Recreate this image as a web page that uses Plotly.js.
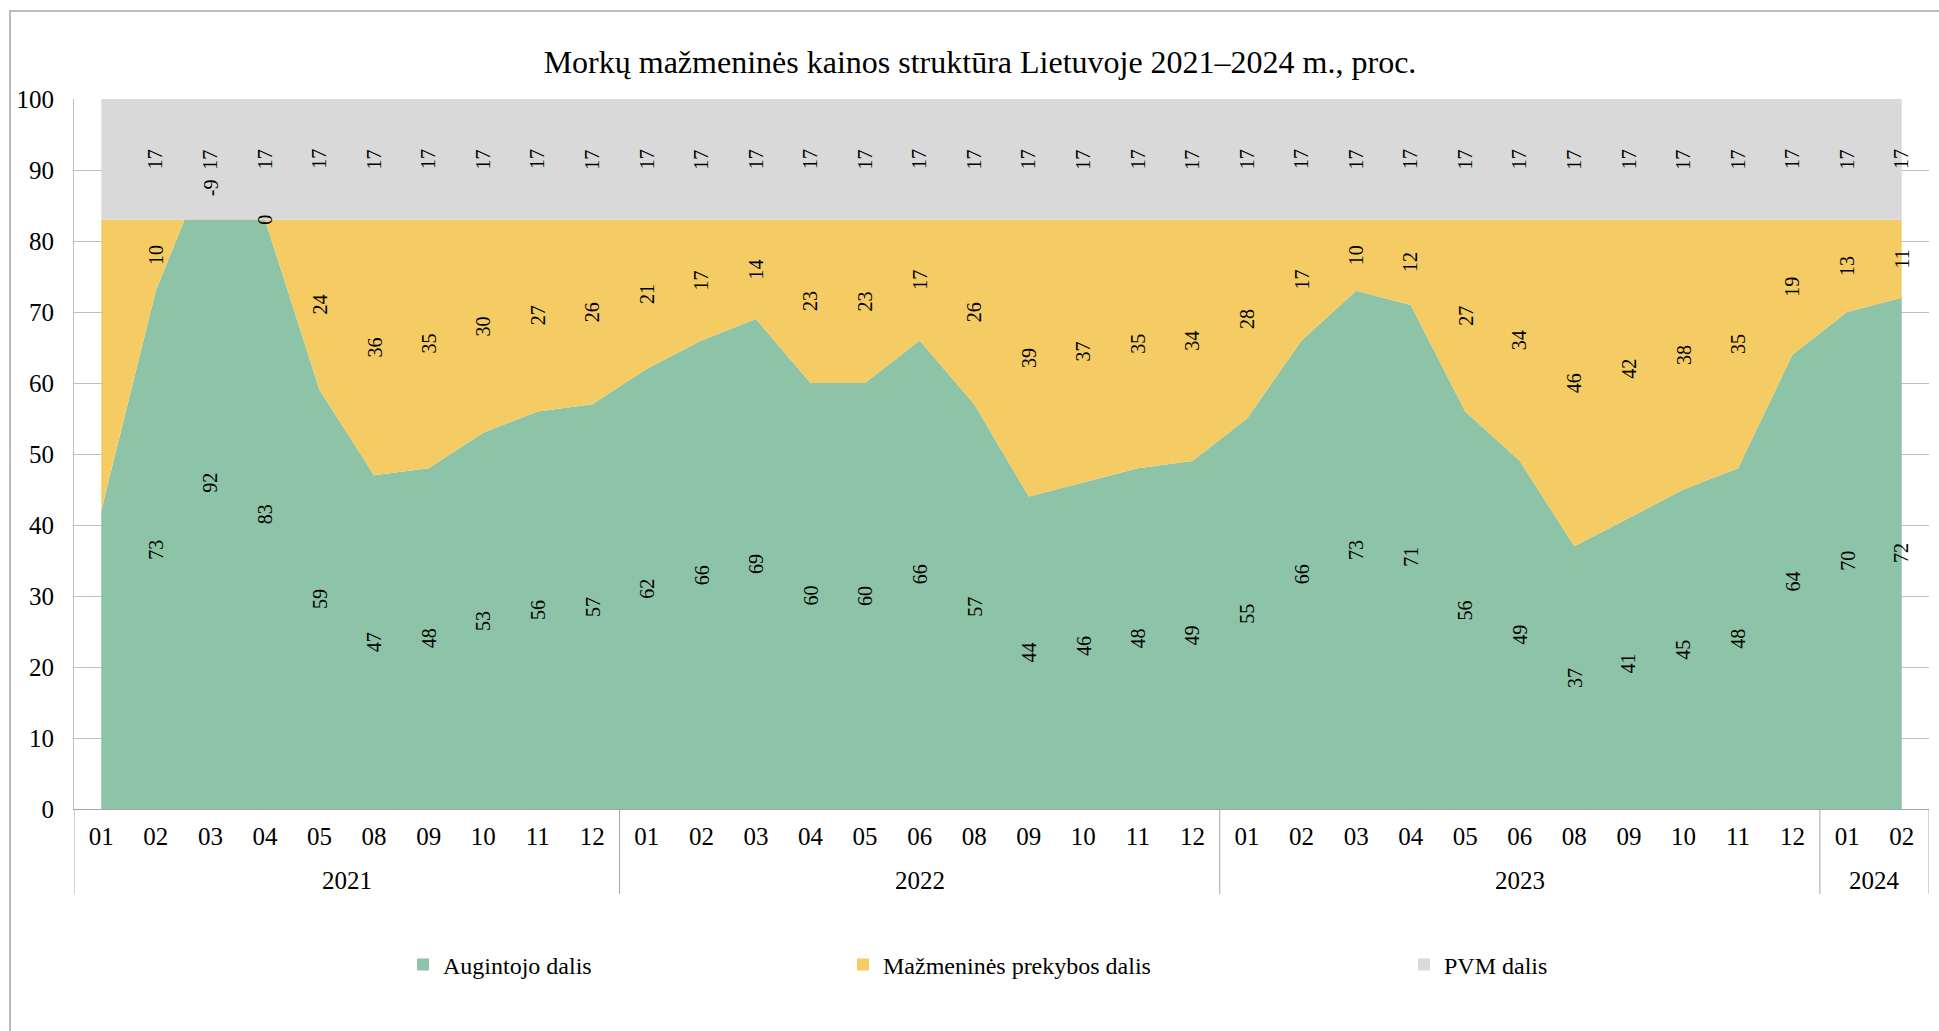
<!DOCTYPE html>
<html>
<head>
<meta charset="utf-8">
<script src="https://cdn.plot.ly/plotly-3.0.1.min.js"></script>
<style>
  html, body { margin: 0; padding: 0; background: #ffffff; }
  #chart { width: 1939px; height: 1031px; }
</style>
</head>
<body>
<div id="chart"></div>
<script>
// ---- Data ----
const years = [
  "2021","2021","2021","2021","2021","2021","2021","2021","2021","2021",
  "2022","2022","2022","2022","2022","2022","2022","2022","2022","2022","2022",
  "2023","2023","2023","2023","2023","2023","2023","2023","2023","2023","2023",
  "2024","2024"
];
const months = [
  "01","02","03","04","05","08","09","10","11","12",
  "01","02","03","04","05","06","08","09","10","11","12",
  "01","02","03","04","05","06","08","09","10","11","12",
  "01","02"
];
const augintojo = [
  42, 73, 92, 83, 59, 47, 48, 53, 56, 57,
  62, 66, 69, 60, 60, 66, 57, 44, 46, 48, 49,
  55, 66, 73, 71, 56, 49, 37, 41, 45, 48, 64,
  70, 72
];
const prekybos = [
  41, 10, -9, 0, 24, 36, 35, 30, 27, 26,
  21, 17, 14, 23, 23, 17, 26, 39, 37, 35, 34,
  28, 17, 10, 12, 27, 34, 46, 42, 38, 35, 19,
  13, 11
];
const pvm = [
  17, 17, 17, 17, 17, 17, 17, 17, 17, 17,
  17, 17, 17, 17, 17, 17, 17, 17, 17, 17, 17,
  17, 17, 17, 17, 17, 17, 17, 17, 17, 17, 17,
  17, 17
];
const seriesNames = ["Augintojo dalis", "Mažmeninės prekybos dalis", "PVM dalis"];
const seriesColors = ["#8DC3A7", "#F5CB64", "#D9D9D9"];
const seriesValues = [augintojo, prekybos, pvm];

// ---- Style ----
const FONT = "Liberation Serif, Times New Roman, serif";
const W = 1939, H = 1031;
const M = { l: 74, r: 10, t: 99, b: 222 };
const PW = W - M.l - M.r, PH = H - M.t - M.b;
const px2x = p => (p - M.l) / PW;
const px2y = p => (H - M.b - p) / PH;
const AXIS_GRAY = "#a6a6a6";

// unique category keys (year + month), labelled with the month only
const keys = years.map((y, i) => y + "-" + months[i]);

const traces = [];
seriesValues.forEach((vals, i) => {
  traces.push({
    type: "scatter",
    x: keys,
    y: vals,
    name: seriesNames[i],
    stackgroup: "one",
    mode: "none",
    fillcolor: seriesColors[i],
    line: { width: 0 },
    showlegend: false,
    hoverinfo: "skip"
  });
});

// legend-only entries (square markers), each in its own legend box
const legendIds = ["legend", "legend2", "legend3"];
seriesValues.forEach((vals, i) => {
  traces.push({
    type: "scatter",
    x: [keys[0]],
    y: [null],
    name: seriesNames[i],
    mode: "markers",
    marker: { symbol: "square", size: 12, color: seriesColors[i] },
    legend: legendIds[i],
    showlegend: true,
    hoverinfo: "skip"
  });
});

// data labels at the middle of each stacked segment
const annotations = [];
const base = new Array(years.length).fill(0);
seriesValues.forEach((vals) => {
  vals.forEach((v, j) => {
    const mid = base[j] + v / 2;
    if (j > 0) {
      annotations.push({
        x: j, y: mid, xref: "x", yref: "y",
        text: String(v), showarrow: false, textangle: -90,
        font: { family: FONT, size: 20, color: "#000000" }
      });
    }
    base[j] += v;
  });
});

// year group labels and group dividers on the category axis
const shapes = [];
const groups = [];
years.forEach((y, i) => {
  if (i === 0 || years[i - 1] !== y) groups.push({ year: y, start: i, end: i });
  else groups[groups.length - 1].end = i;
});
const divY0 = px2y(809), divY1 = px2y(894);
groups.forEach((g, gi) => {
  annotations.push({
    x: (g.start + g.end) / 2, xref: "x",
    y: px2y(880), yref: "paper", yanchor: "middle",
    text: g.year, showarrow: false,
    font: { family: FONT, size: 25, color: "#000000" }
  });
  shapes.push({
    type: "line", xref: "x", yref: "paper",
    x0: g.start - 0.5, x1: g.start - 0.5, y0: divY0, y1: divY1,
    line: { color: AXIS_GRAY, width: 1 }
  });
  if (gi === groups.length - 1) {
    shapes.push({
      type: "line", xref: "x", yref: "paper",
      x0: g.end + 0.5, x1: g.end + 0.5, y0: divY0, y1: divY1,
      line: { color: AXIS_GRAY, width: 1 }
    });
  }
});

// outer chart border
shapes.push({
  type: "rect", xref: "paper", yref: "paper",
  x0: px2x(10), x1: px2x(W + 20),
  y0: px2y(H + 20), y1: px2y(11),
  line: { color: AXIS_GRAY, width: 1.5 },
  fillcolor: "rgba(0,0,0,0)",
  layer: "below"
});

const legendCommon = {
  orientation: "h",
  yanchor: "middle",
  xanchor: "left",
  font: { family: FONT, size: 24, color: "#000000" },
  bgcolor: "rgba(0,0,0,0)",
  itemwidth: 30
};

const layout = {
  width: W, height: H,
  margin: M,
  paper_bgcolor: "#ffffff",
  plot_bgcolor: "#ffffff",
  font: { family: FONT, color: "#000000" },
  title: {
    text: "Morkų mažmeninės kainos struktūra Lietuvoje 2021–2024 m., proc.",
    font: { family: FONT, size: 32, color: "#000000" },
    xref: "container", x: 980 / W, xanchor: "center",
    yref: "container", y: 1 - 62 / H, yanchor: "middle"
  },
  xaxis: {
    type: "category",
    range: [-0.5, keys.length - 0.5],
    tickmode: "array",
    tickvals: keys,
    ticktext: months,
    showgrid: false,
    zeroline: false,
    showline: true,
    linecolor: AXIS_GRAY,
    linewidth: 1,
    ticks: "",
    ticklabelstandoff: 5,
    tickangle: 0,
    tickfont: { family: FONT, size: 25, color: "#000000" }
  },
  yaxis: {
    range: [0, 100],
    dtick: 10,
    showgrid: true,
    gridcolor: "#bfbfbf",
    gridwidth: 1,
    zeroline: false,
    showline: true,
    linecolor: "#bfbfbf",
    ticks: "",
    ticklabelstandoff: 14,
    tickfont: { family: FONT, size: 25, color: "#000000" }
  },
  legend: Object.assign({}, legendCommon, { x: px2x(403), y: px2y(965) }),
  legend2: Object.assign({}, legendCommon, { x: px2x(843), y: px2y(965) }),
  legend3: Object.assign({}, legendCommon, { x: px2x(1404), y: px2y(965) }),
  annotations: annotations,
  shapes: shapes
};

Plotly.newPlot("chart", traces, layout, { displayModeBar: false, staticPlot: true });
</script>
</body>
</html>
